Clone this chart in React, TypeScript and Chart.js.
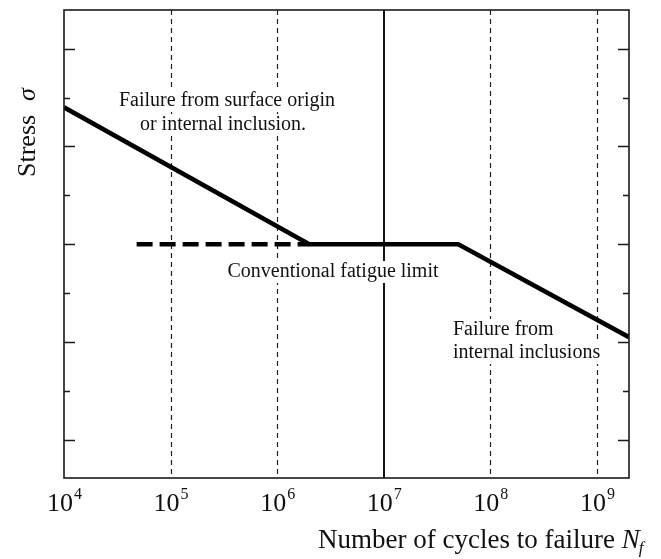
import React, { useEffect, useRef } from 'react';
import { Chart, registerables } from 'chart.js';

Chart.register(...registerables);

// ---- data ----
const sCurveCycles = [1e4, 2e6, 5e7, 2e9];
const sCurveStress = [6.8, 4.0, 4.0, 2.1];
const limitCycles = [4.8e4, 2e6];
const limitStress = [4.0, 4.0];
const decadeTicks = [1e4, 1e5, 1e6, 1e7, 1e8, 1e9];
const decadeExponents = ['4', '5', '6', '7', '8', '9'];
const dashedGridDecades = [1e5, 1e6, 1e8, 1e9];
const solidGridDecades = [1e7];
const yMajorTicks = [0, 2, 4, 6, 8];
const yMinorTicks = [1, 3, 5, 7];

const SERIF = '"Liberation Serif", "Times New Roman", serif';
const ANN_FONT = `20px ${SERIF}`;

type Ann = { text: string; x: number; y: number; align: 'center' | 'left' };
const annotations: Ann[] = [
  { text: 'Failure from surface origin', x: 227, y: 106, align: 'center' },
  { text: 'or internal inclusion.', x: 223, y: 130, align: 'center' },
  { text: 'Conventional fatigue limit', x: 333, y: 277, align: 'center' },
  { text: 'Failure from', x: 453, y: 335, align: 'left' },
  { text: 'internal inclusions', x: 453, y: 358, align: 'left' },
];

const gridPlugin = {
  id: 'gridPlugin',
  beforeDatasetsDraw(chart: any) {
    const { ctx, chartArea, scales } = chart;
    const xs = scales.x;
    ctx.save();
    ctx.strokeStyle = '#222';
    ctx.lineWidth = 1.2;
    ctx.setLineDash([5, 4]);
    dashedGridDecades.forEach((v) => {
      const px = Math.round(xs.getPixelForValue(v)) + 0.5;
      ctx.beginPath();
      ctx.moveTo(px, chartArea.top);
      ctx.lineTo(px, chartArea.bottom);
      ctx.stroke();
    });
    ctx.setLineDash([]);
    ctx.lineWidth = 2;
    ctx.strokeStyle = '#111';
    solidGridDecades.forEach((v) => {
      const px = Math.round(xs.getPixelForValue(v));
      ctx.beginPath();
      ctx.moveTo(px, chartArea.top);
      ctx.lineTo(px, chartArea.bottom);
      ctx.stroke();
    });
    // white knock-out boxes behind annotation text
    ctx.fillStyle = '#fff';
    ctx.font = ANN_FONT;
    annotations.forEach((a) => {
      const w = ctx.measureText(a.text).width;
      const x0 = a.align === 'center' ? a.x - w / 2 : a.x;
      ctx.fillRect(x0 - 3, a.y - 16, w + 6, 22);
    });
    ctx.restore();
  },
};

const decorPlugin = {
  id: 'decorPlugin',
  afterDraw(chart: any) {
    const { ctx, chartArea, scales } = chart;
    const xs = scales.x;
    const ys = scales.y;
    const { left, right, top, bottom } = chartArea;
    ctx.save();
    // frame
    ctx.strokeStyle = '#1a1a1a';
    ctx.lineWidth = 1.6;
    ctx.strokeRect(left, top, right - left, bottom - top);
    // inward y ticks on both sides
    ctx.lineWidth = 1.5;
    const drawTick = (v: number, len: number) => {
      const py = Math.round(ys.getPixelForValue(v)) + 0.5;
      ctx.beginPath();
      ctx.moveTo(left, py);
      ctx.lineTo(left + len, py);
      ctx.moveTo(right, py);
      ctx.lineTo(right - len, py);
      ctx.stroke();
    };
    yMajorTicks.forEach((v) => drawTick(v, 11));
    yMinorTicks.forEach((v) => drawTick(v, 6));

    ctx.fillStyle = '#111';
    // x tick labels 10^n
    decadeTicks.forEach((v, i) => {
      const px = xs.getPixelForValue(v);
      ctx.font = `26px ${SERIF}`;
      const baseW = ctx.measureText('10').width;
      ctx.font = `16px ${SERIF}`;
      const supW = ctx.measureText(decadeExponents[i]).width;
      const start = px - (baseW + supW) / 2;
      ctx.textAlign = 'left';
      ctx.textBaseline = 'alphabetic';
      ctx.font = `26px ${SERIF}`;
      ctx.fillText('10', start, bottom + 33);
      ctx.font = `16px ${SERIF}`;
      ctx.fillText(decadeExponents[i], start + baseW + 1, bottom + 21);
    });

    // x title
    ctx.textAlign = 'left';
    ctx.textBaseline = 'alphabetic';
    ctx.font = `27px ${SERIF}`;
    const xt = 'Number of cycles to failure ';
    const tx = 318;
    const ty = 548;
    ctx.fillText(xt, tx, ty);
    const w1 = ctx.measureText(xt).width;
    ctx.font = `italic 27px ${SERIF}`;
    ctx.fillText('N', tx + w1, ty);
    const w2 = ctx.measureText('N').width;
    ctx.font = `italic 17px ${SERIF}`;
    ctx.fillText('f', tx + w1 + w2 - 1, ty + 5);

    // y title
    ctx.save();
    ctx.translate(35, 177);
    ctx.rotate(-Math.PI / 2);
    ctx.font = `26px ${SERIF}`;
    ctx.fillText('Stress', 0, 0);
    const sw = ctx.measureText('Stress').width;
    ctx.font = `italic 26px ${SERIF}`;
    ctx.fillText('σ', sw + 14, 0);
    ctx.restore();

    // annotations
    ctx.font = ANN_FONT;
    annotations.forEach((a) => {
      ctx.textAlign = a.align;
      ctx.fillText(a.text, a.x, a.y);
    });
    ctx.restore();
  },
};

export default function App() {
  const ref = useRef<HTMLCanvasElement>(null);
  useEffect(() => {
    if (!ref.current) return;
    const chart = new Chart(ref.current, {
      type: 'line',
      data: {
        datasets: [
          {
            label: 'S-N curve',
            data: sCurveCycles.map((x, i) => ({ x, y: sCurveStress[i] })),
            borderColor: '#000',
            borderWidth: 4.5,
            pointRadius: 0,
            fill: false,
            tension: 0,
            borderJoinStyle: 'miter',
          },
          {
            label: 'Conventional fatigue limit',
            data: limitCycles.map((x, i) => ({ x, y: limitStress[i] })),
            borderColor: '#000',
            borderWidth: 4.5,
            borderDash: [16, 7],
            pointRadius: 0,
            fill: false,
          },
        ],
      },
      options: {
        animation: false,
        responsive: false,
        maintainAspectRatio: false,
        layout: { padding: { left: 64, top: 10, right: 32, bottom: 81 } },
        plugins: { legend: { display: false }, tooltip: { enabled: false } },
        scales: {
          x: { type: 'logarithmic', min: 1e4, max: 2e9, display: false },
          y: { type: 'linear', min: -0.78, max: 8.79, display: false },
        },
      },
      plugins: [gridPlugin, decorPlugin],
    } as any);
    return () => chart.destroy();
  }, []);
  return (
    <div style={{ position: 'absolute', left: 0, top: 0, width: 661, height: 559, background: '#fff' }}>
      <canvas ref={ref} width={661} height={559} />
    </div>
  );
}
